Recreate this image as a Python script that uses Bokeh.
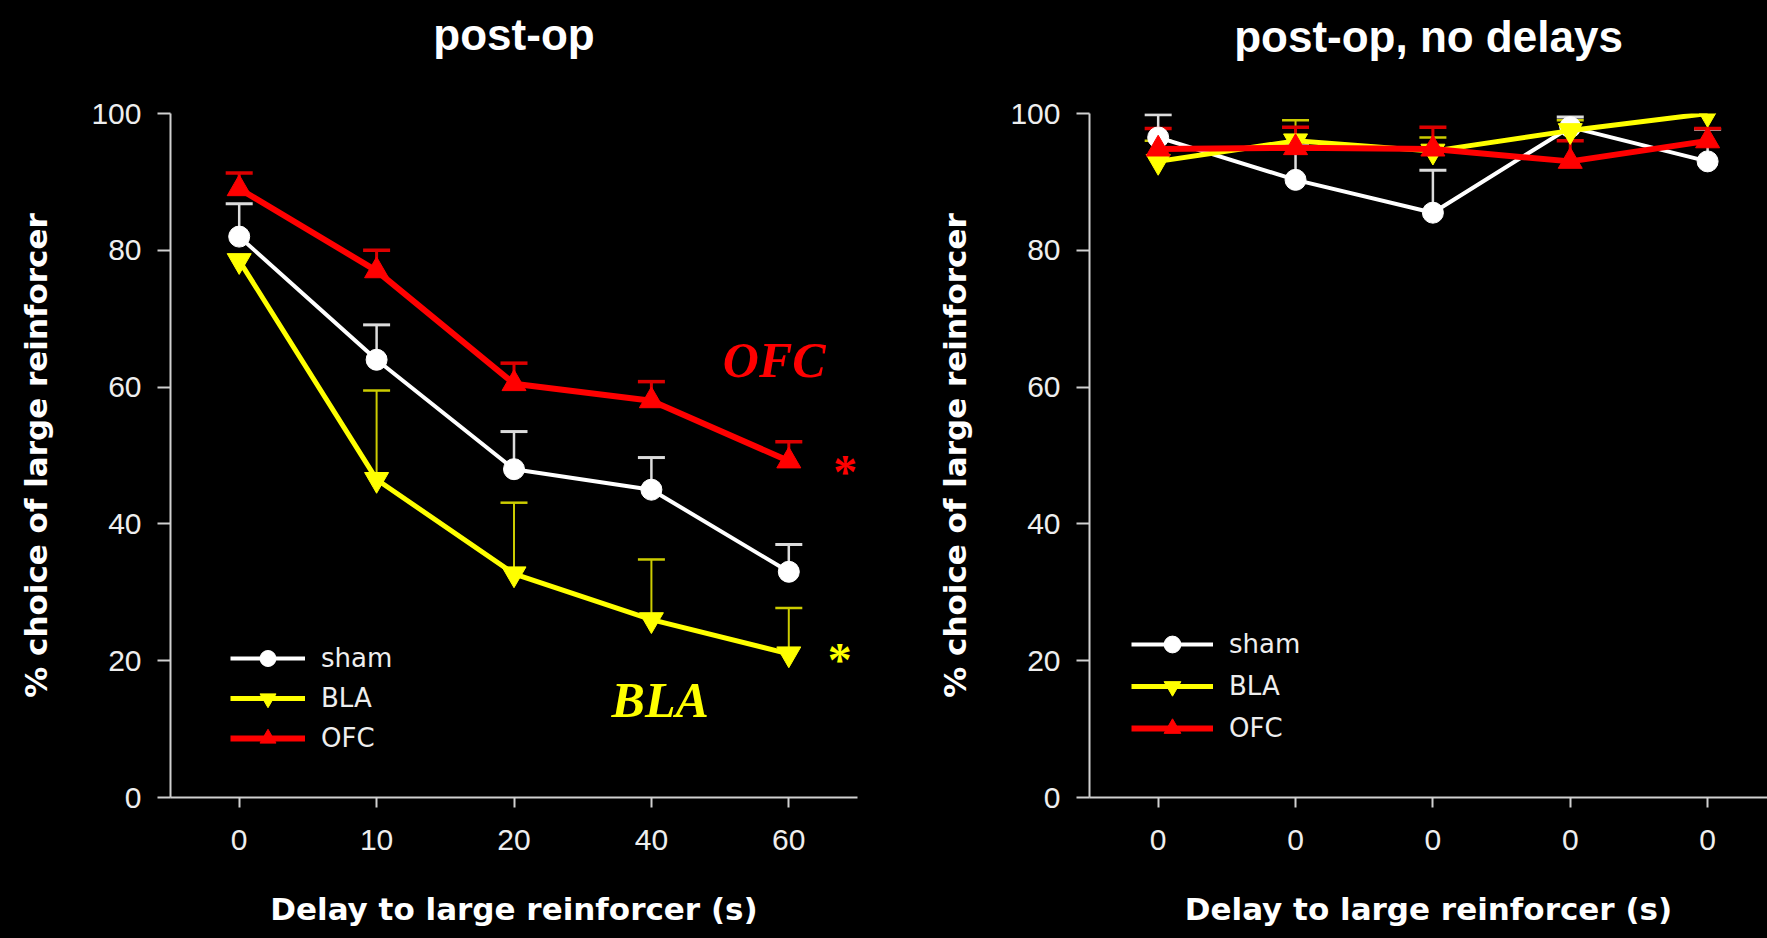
from bokeh.plotting import figure
from bokeh.layouts import row
from bokeh.models import (ColumnDataSource, FixedTicker, Range1d, Legend, LegendItem,
                          GlobalInlineStyleSheet)
from bokeh.core.properties import value
from bokeh.embed import file_html
from bokeh.resources import INLINE

# ---------------- data ----------------
positions = [0, 1, 2, 3, 4]
left_tick_labels = ["0", "10", "20", "40", "60"]
right_tick_labels = ["0", "0", "0", "0", "0"]
y_ticks = [0, 20, 40, 60, 80, 100]

groups = ["sham", "BLA", "OFC"]

left_sham = [82, 64, 48, 45, 33]
left_sham_err = [4.8, 5.1, 5.5, 4.7, 4.0]
left_bla = [78.5, 46.5, 32.7, 26, 21]
left_bla_err = [0, 13, 10.4, 8.8, 6.7]
left_ofc = [89, 77, 60.5, 58, 49.2]
left_ofc_err = [2.3, 3, 3, 2.8, 2.8]

right_sham = [96.5, 90.3, 85.5, 98, 93]
right_sham_err = [3.3, 5, 6.2, 1.5, 4.7]
right_bla = [93, 96, 94.5, 97.5, 100]
right_bla_err = [3, 3, 2, 1.5, 0]
right_ofc = [94.8, 95, 94.8, 93, 96]
right_ofc_err = [3, 3, 3.2, 3, 1.8]

# annotations (left panel)
star_x = [4.41, 4.37]
star_y = [47.6, 20.2]
star_colors = ["#ff0000", "#ffff00"]
region_text = ["OFC", "BLA"]
region_x = [3.52, 2.71]
region_y = [64.0, 14.3]
region_colors = ["#ff0000", "#ffff00"]

# ---------------- styles ----------------
LINE_COL = {"sham": "#ffffff", "BLA": "#ffff00", "OFC": "#ff0000"}
ERR_COL = {"sham": "#dcdcdc", "BLA": "#cccc00", "OFC": "#dd0000"}
LINE_W = {"sham": 4, "BLA": 5, "OFC": 6}
ERR_W = {"sham": 2.5, "BLA": 2, "OFC": 3}
MARKER = {"sham": "circle", "BLA": "inverted_triangle", "OFC": "triangle"}
MSIZE = {"sham": 21, "BLA": 24, "OFC": 24}

AX_COL = "#d0d0d0"
TXT_COL = "#eeeeee"


def make_panel(width, height, x_end, border, series, tick_labels, title, title_pad,
               legend_loc, legend_gh, legend_gw):
    p = figure(width=width, height=height, output_backend="svg", toolbar_location=None,
               x_range=Range1d(-0.5, x_end), y_range=Range1d(0, 100),
               min_border_left=border[0], min_border_right=border[1],
               min_border_top=border[2], min_border_bottom=border[3])
    p.background_fill_color = "#000000"
    p.border_fill_color = "#000000"
    p.outline_line_color = None
    p.grid.visible = False

    p.title.text = title
    p.title.align = "center"
    p.title.vertical_align = "top"
    p.title.text_baseline = "top"
    p.title.text_color = "#ffffff"
    p.title.text_font = "Liberation Sans"
    p.title.text_font_style = "bold"
    p.title.text_font_size = "44px"
    p.title.standoff = 10
    p.title.padding = dict(top=0, right=0, bottom=title_pad, left=0)

    # axes
    p.xaxis.ticker = FixedTicker(ticks=positions)
    p.xaxis.major_label_overrides = {pos: lab for pos, lab in zip(positions, tick_labels)}
    p.yaxis.ticker = FixedTicker(ticks=y_ticks)
    for ax in (p.xaxis, p.yaxis):
        ax.axis_line_color = AX_COL
        ax.axis_line_width = 2
        ax.major_tick_line_color = AX_COL
        ax.major_tick_line_width = 2
        ax.major_tick_in = 0
        ax.minor_tick_line_color = None
        ax.major_label_text_color = TXT_COL
        ax.major_label_text_font = "Liberation Sans"
        ax.major_label_text_font_size = "30px"
        ax.axis_label_text_color = "#ffffff"
        ax.axis_label_text_font = "DejaVu Sans"
        ax.axis_label_text_font_style = "bold"
        ax.axis_label_text_font_size = "31px"
    p.xaxis.major_tick_out = 10
    p.yaxis.major_tick_out = 13
    p.xaxis.major_label_standoff = 22
    p.yaxis.major_label_standoff = 16
    p.xaxis.axis_label = "Delay to large reinforcer (s)"
    p.yaxis.axis_label = "% choice of large reinforcer"
    p.xaxis.axis_label_standoff = 38
    p.yaxis.axis_label_standoff = 34

    items = []
    for g, vals, errs in series:
        # error bars (upper only)
        ex = [x for x, e in zip(positions, errs) if e > 0]
        ey0 = [v for v, e in zip(vals, errs) if e > 0]
        ey1 = [v + e for v, e in zip(vals, errs) if e > 0]
        src_e = ColumnDataSource(dict(x=ex, y0=ey0, y1=ey1))
        p.segment(x0="x", y0="y0", x1="x", y1="y1", source=src_e,
                  line_color=ERR_COL[g], line_width=ERR_W[g])
        p.scatter(x="x", y="y1", source=src_e, marker="dash", size=27,
                  line_color=ERR_COL[g], line_width=ERR_W[g] + 0.5)
    for g, vals, errs in series:
        src = ColumnDataSource(dict(x=positions, y=vals))
        lr = p.line(x="x", y="y", source=src, line_color=LINE_COL[g], line_width=LINE_W[g])
        sr = p.scatter(x="x", y="y", source=src, marker=MARKER[g], size=MSIZE[g],
                       fill_color=LINE_COL[g], line_color=LINE_COL[g])
        items.append(LegendItem(label=g, renderers=[lr, sr]))

    legend = Legend(items=items, location=legend_loc, orientation="vertical")
    legend.background_fill_alpha = 0
    legend.border_line_color = None
    legend.padding = 0
    legend.margin = 0
    legend.glyph_width = legend_gw
    legend.glyph_height = legend_gh
    legend.label_height = 30
    legend.spacing = 0
    legend.label_standoff = 16
    legend.label_text_color = TXT_COL
    legend.label_text_font = "DejaVu Sans"
    legend.label_text_font_size = "26px"
    p.add_layout(legend, "center")
    return p


left = make_panel(928, 938, 4.5, (170, 71, 113, 138),
                  [("sham", left_sham, left_sham_err),
                   ("BLA", left_bla, left_bla_err),
                   ("OFC", left_ofc, left_ofc_err)],
                  left_tick_labels, "post-op", 48, (60, 39), 40, 75)

src_star = ColumnDataSource(dict(x=star_x, y=star_y, c=star_colors))
left.text(x="x", y="y", text=value("*"), source=src_star, text_color="c",
          text_align="center", text_baseline="alphabetic",
          text_font=value("Liberation Serif"), text_font_style="bold",
          text_font_size="48px")
src_reg = ColumnDataSource(dict(x=region_x, y=region_y, t=region_text, c=region_colors))
left.text(x="x", y="y", text="t", source=src_reg, text_color="c",
          text_align="left", text_baseline="alphabetic",
          text_font=value("Liberation Serif"), text_font_style="bold italic",
          text_font_size="50px")

right = make_panel(839, 938, 4.436, (161, 0, 111, 141),
                   [("sham", right_sham, right_sham_err),
                    ("BLA", right_bla, right_bla_err),
                    ("OFC", right_ofc, right_ofc_err)],
                   right_tick_labels, "post-op, no delays", 46, (42, 48), 42, 82)

p = row(left, right)
p.stylesheets = [GlobalInlineStyleSheet(css="html, body { background-color: #000000; }")]

open("out.html", "w").write(file_html(p, INLINE))
